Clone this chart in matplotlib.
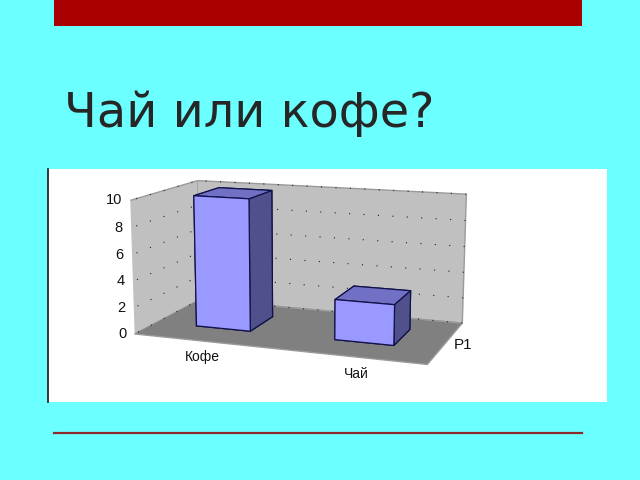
import matplotlib
matplotlib.use("Agg")
import matplotlib.pyplot as plt
from matplotlib.patches import Rectangle

categories = ["Кофе", "Чай"]
values = [10, 3]
series = ["Р1"]
z_ticks = [0, 2, 4, 6, 8, 10]
title = "Чай или кофе?"

W, H = 640, 480
fig = plt.figure(figsize=(W / 100, H / 100), dpi=100, facecolor="#6bffff")

# slide decoration, in pixels from the top left corner
bg = fig.add_axes([0, 0, 1, 1])
bg.set_xlim(0, W)
bg.set_ylim(H, 0)
bg.axis("off")
bg.add_patch(Rectangle((54, 0), 528, 26, fc="#aa0000", ec="none"))
bg.add_patch(Rectangle((47, 169), 560, 233, fc="white", ec="none"))
bg.plot([47.5, 47.5], [169, 402], color="#111111", lw=1.2)
bg.plot([54, 582], [432.5, 432.5], color="#8c2a2a", lw=1.6)
bg.text(64, 127, title, fontsize=34.5, color="#262626", family="DejaVu Sans", ha="left", va="baseline")

# the chart itself
ax = fig.add_axes([-0.0085, -0.032, 0.94, 0.94], projection="3d")
ax.patch.set_alpha(0)
ax.set_proj_type("persp", focal_length=0.45)
ax.view_init(elev=12, azim=-70, roll=0)
ax.set_box_aspect((2.5, 1.28, 1.127), zoom=0.775)
ax.set_xlim(0, len(categories))
ax.set_ylim(0, 1)
ax.set_zlim(0, 10)
ax.set_xticks([])
ax.set_yticks([])
ax.set_zticks(z_ticks)
ax.set_zticklabels([])

ax.xaxis.set_pane_color("#c0c0c0")
ax.yaxis.set_pane_color("#c0c0c0")
ax.zaxis.set_pane_color("#808080")
for axis in (ax.xaxis, ax.yaxis, ax.zaxis):
    axis.pane.set_edgecolor("#9a9a9a")
    axis.line.set_color((0, 0, 0, 0))
    axis._axinfo["grid"]["color"] = "#222222"
    axis._axinfo["grid"]["linewidth"] = 0.8
    axis._axinfo["grid"]["linestyle"] = (0, (1, 12))
    axis._axinfo["tick"]["inward_factor"] = 0
    axis._axinfo["tick"]["outward_factor"] = 0

# faces are -z, +z, -y, +y, -x, +x
faces = ["#9999ff", "#7070c4", "#9999ff", "#9999ff", "#9999ff", "#50508c"]
for i, v in enumerate(values):
    ax.bar3d(i + 0.3, 0.32, 0, 0.4, 0.4, v, color=faces, edgecolor="#10104a", linewidth=0.9, shade=False)

for t in z_ticks:
    ax.text(-0.05, -0.02, t, str(t), fontsize=10.5, family="Liberation Sans", ha="right", va="center", color="#111111")
for i, c in enumerate(categories):
    ax.text(i + 0.65, -0.32, 0, c, fontsize=10, family="Liberation Sans", ha="center", va="center", color="#111111")
ax.text(2.06, 0.45, 0, series[0], fontsize=11, family="Liberation Sans", ha="left", va="center", color="#111111")

fig.savefig("out.png", dpi=100, facecolor=fig.get_facecolor())
